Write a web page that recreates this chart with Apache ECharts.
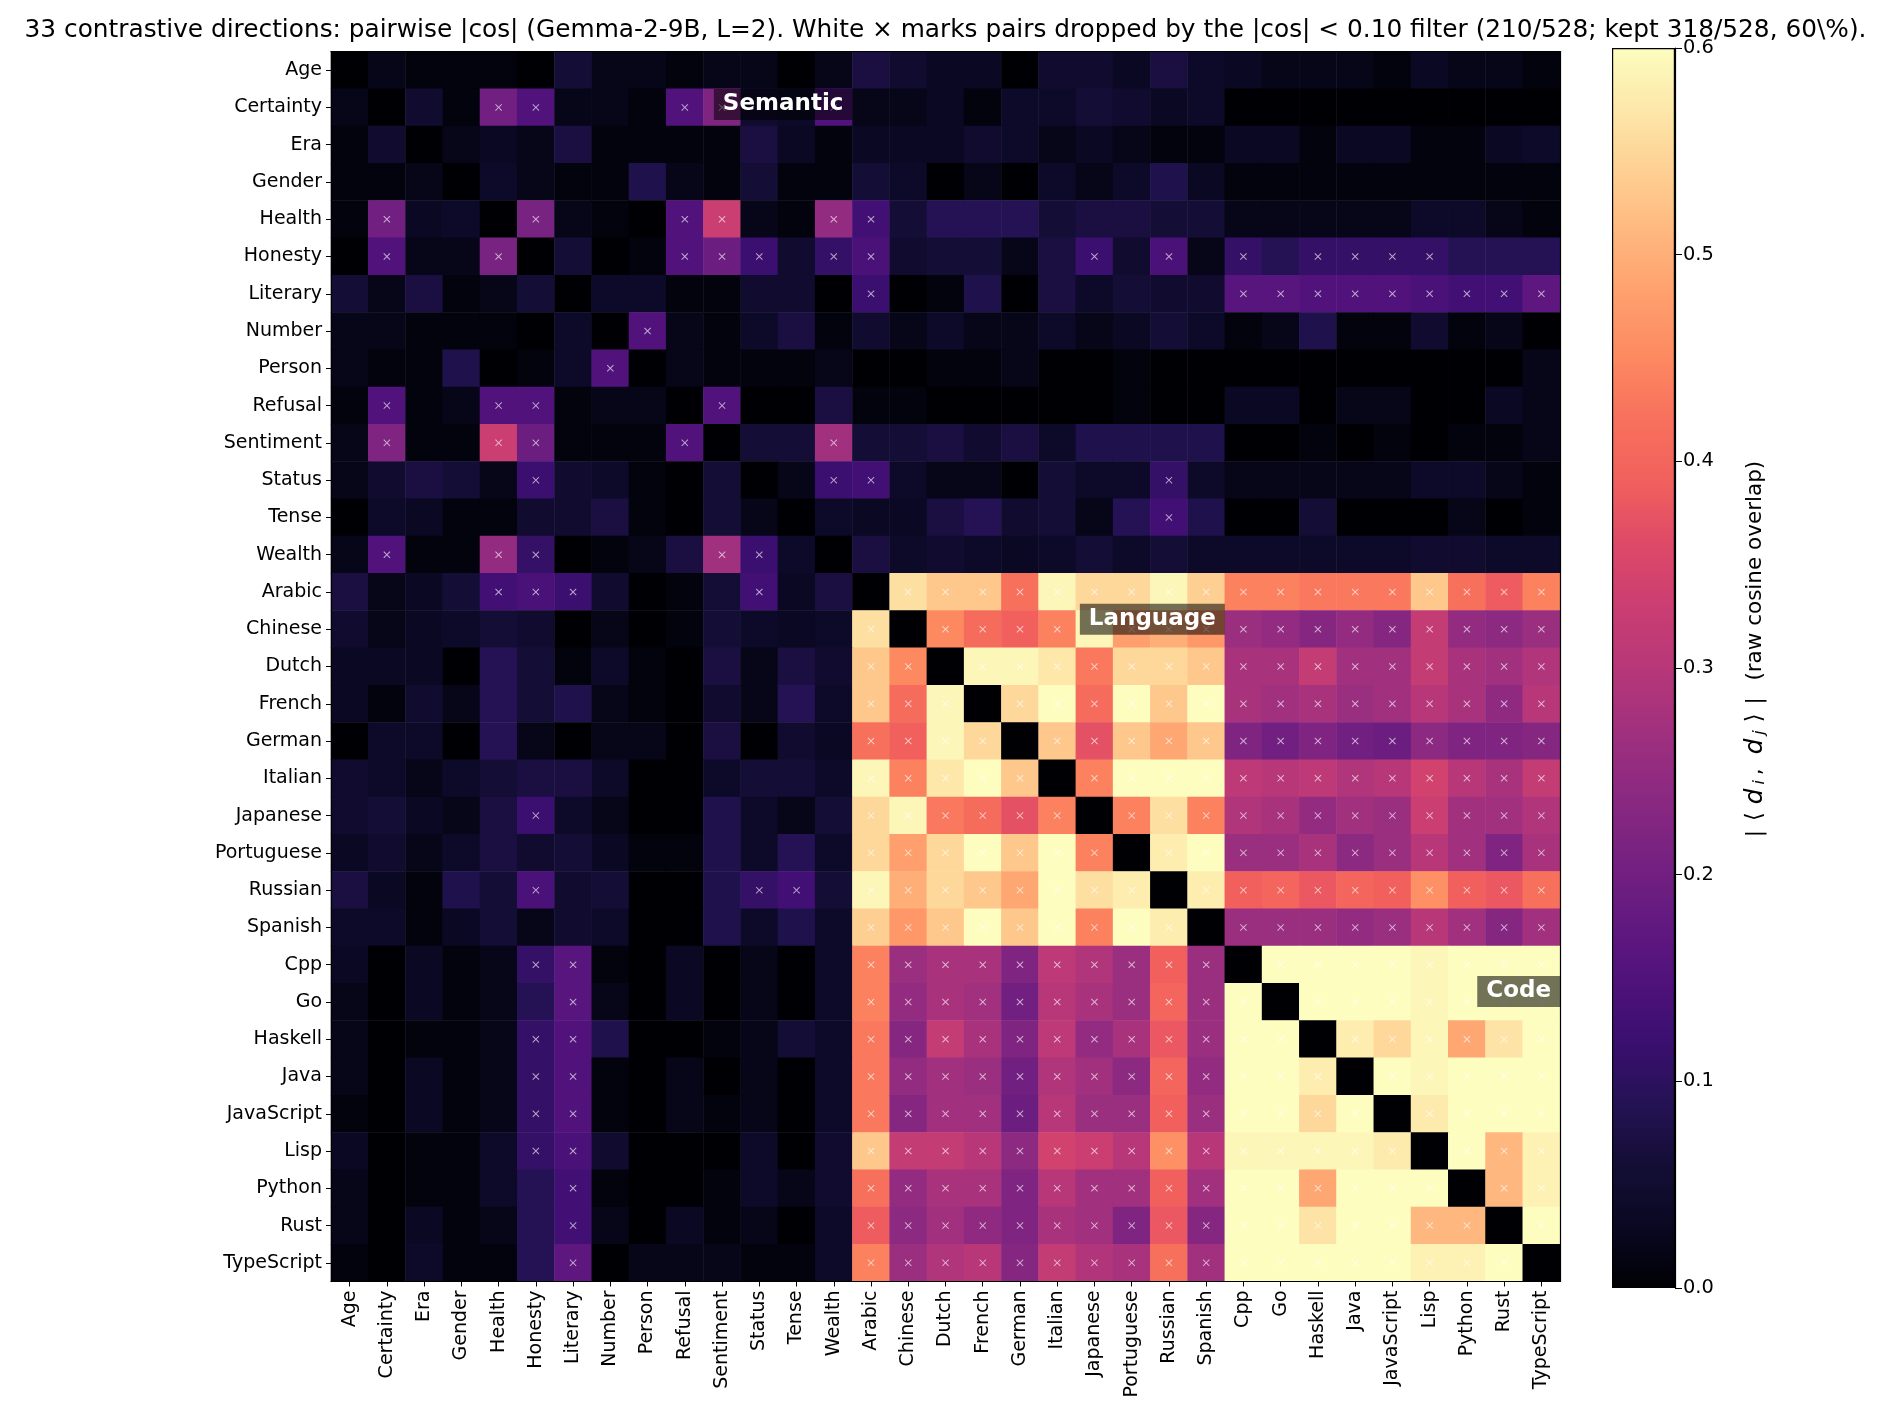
<!DOCTYPE html>
<html>
<head>
<meta charset="utf-8">
<script src="https://cdn.jsdelivr.net/npm/echarts@6/dist/echarts.min.js"></script>
<style>
html,body{margin:0;padding:0;background:#fff;}
#chart{width:1891px;height:1421px;}
</style>
</head>
<body>
<div id="chart"></div>
<script>
// ---- categories ----
const directions = ['Age','Certainty','Era','Gender','Health','Honesty','Literary','Number','Person','Refusal','Sentiment','Status','Tense','Wealth',
  'Arabic','Chinese','Dutch','French','German','Italian','Japanese','Portuguese','Russian','Spanish',
  'Cpp','Go','Haskell','Java','JavaScript','Lisp','Python','Rust','TypeScript'];

// ---- |cos| values, lower triangle: row i lists columns 0..i-1 ----
const semanticRows = [
  [],
  [0.02],
  [0.01, 0.05],
  [0.01, 0.01, 0.02],
  [0.01, 0.20, 0.03, 0.04],
  [0.00, 0.15, 0.02, 0.02, 0.21],
  [0.06, 0.02, 0.07, 0.01, 0.02, 0.06],
  [0.02, 0.02, 0.01, 0.01, 0.01, 0.00, 0.04],
  [0.02, 0.01, 0.01, 0.08, 0.00, 0.01, 0.04, 0.15],
  [0.01, 0.15, 0.01, 0.02, 0.15, 0.15, 0.01, 0.02, 0.02],
  [0.02, 0.22, 0.01, 0.01, 0.33, 0.19, 0.01, 0.01, 0.01, 0.15],
  [0.02, 0.05, 0.07, 0.06, 0.02, 0.12, 0.05, 0.04, 0.01, 0.00, 0.06],
  [0.00, 0.04, 0.03, 0.01, 0.01, 0.05, 0.05, 0.07, 0.01, 0.00, 0.06, 0.02],
  [0.02, 0.15, 0.01, 0.01, 0.25, 0.11, 0.00, 0.01, 0.02, 0.07, 0.27, 0.12, 0.04]
];
const languageRows = [
  [0.07, 0.02, 0.03, 0.06, 0.13, 0.14, 0.12, 0.05, 0.00, 0.01, 0.06, 0.13, 0.03, 0.07],
  [0.05, 0.02, 0.03, 0.04, 0.06, 0.05, 0.00, 0.02, 0.00, 0.01, 0.06, 0.04, 0.03, 0.04, 0.56],
  [0.03, 0.03, 0.03, 0.00, 0.09, 0.06, 0.01, 0.04, 0.01, 0.00, 0.07, 0.02, 0.07, 0.05, 0.53, 0.45],
  [0.03, 0.01, 0.05, 0.02, 0.09, 0.06, 0.08, 0.02, 0.01, 0.00, 0.05, 0.02, 0.09, 0.04, 0.53, 0.41, 0.59],
  [0.00, 0.04, 0.04, 0.00, 0.09, 0.02, 0.00, 0.02, 0.02, 0.00, 0.07, 0.00, 0.05, 0.03, 0.42, 0.39, 0.59, 0.55],
  [0.05, 0.04, 0.02, 0.04, 0.06, 0.07, 0.07, 0.04, 0.00, 0.00, 0.04, 0.06, 0.06, 0.04, 0.59, 0.44, 0.57, 0.60, 0.53],
  [0.05, 0.06, 0.03, 0.02, 0.07, 0.12, 0.04, 0.02, 0.00, 0.00, 0.08, 0.04, 0.02, 0.06, 0.55, 0.59, 0.43, 0.41, 0.37, 0.44],
  [0.03, 0.05, 0.02, 0.04, 0.07, 0.05, 0.06, 0.03, 0.01, 0.01, 0.08, 0.04, 0.09, 0.04, 0.55, 0.48, 0.55, 0.60, 0.53, 0.60, 0.44],
  [0.07, 0.03, 0.01, 0.08, 0.06, 0.14, 0.05, 0.06, 0.00, 0.00, 0.08, 0.11, 0.13, 0.06, 0.59, 0.50, 0.55, 0.53, 0.49, 0.60, 0.56, 0.58],
  [0.04, 0.04, 0.01, 0.03, 0.06, 0.02, 0.05, 0.04, 0.00, 0.00, 0.08, 0.04, 0.08, 0.04, 0.54, 0.47, 0.53, 0.60, 0.53, 0.60, 0.44, 0.60, 0.58]
];
const codeRows = [
  [0.03, 0.00, 0.03, 0.01, 0.02, 0.11, 0.16, 0.01, 0.00, 0.03, 0.00, 0.02, 0.00, 0.04, 0.44, 0.26, 0.28, 0.28, 0.22, 0.31, 0.29, 0.26, 0.39, 0.26],
  [0.02, 0.00, 0.03, 0.01, 0.02, 0.09, 0.16, 0.02, 0.00, 0.03, 0.00, 0.02, 0.00, 0.04, 0.44, 0.25, 0.28, 0.27, 0.20, 0.30, 0.28, 0.26, 0.40, 0.26, 0.60],
  [0.02, 0.00, 0.01, 0.01, 0.02, 0.11, 0.15, 0.08, 0.00, 0.00, 0.01, 0.02, 0.06, 0.04, 0.43, 0.23, 0.32, 0.28, 0.22, 0.31, 0.25, 0.28, 0.38, 0.26, 0.60, 0.60],
  [0.02, 0.00, 0.03, 0.01, 0.02, 0.11, 0.15, 0.01, 0.00, 0.02, 0.00, 0.02, 0.00, 0.04, 0.43, 0.25, 0.27, 0.26, 0.20, 0.29, 0.27, 0.24, 0.40, 0.25, 0.60, 0.60, 0.58],
  [0.01, 0.00, 0.03, 0.01, 0.02, 0.11, 0.15, 0.01, 0.00, 0.02, 0.01, 0.02, 0.00, 0.04, 0.43, 0.23, 0.27, 0.27, 0.19, 0.30, 0.26, 0.26, 0.39, 0.26, 0.60, 0.60, 0.55, 0.60],
  [0.03, 0.00, 0.01, 0.01, 0.04, 0.11, 0.14, 0.05, 0.00, 0.00, 0.00, 0.04, 0.00, 0.05, 0.53, 0.32, 0.32, 0.30, 0.24, 0.34, 0.33, 0.30, 0.46, 0.30, 0.59, 0.59, 0.59, 0.59, 0.575],
  [0.02, 0.00, 0.01, 0.01, 0.04, 0.09, 0.13, 0.01, 0.00, 0.00, 0.01, 0.04, 0.02, 0.05, 0.42, 0.25, 0.28, 0.28, 0.22, 0.30, 0.27, 0.27, 0.39, 0.27, 0.60, 0.60, 0.49, 0.60, 0.60, 0.60],
  [0.02, 0.00, 0.03, 0.01, 0.02, 0.09, 0.13, 0.02, 0.00, 0.03, 0.01, 0.02, 0.00, 0.04, 0.385, 0.24, 0.27, 0.245, 0.22, 0.28, 0.27, 0.22, 0.38, 0.23, 0.60, 0.60, 0.565, 0.60, 0.60, 0.51, 0.51],
  [0.01, 0.00, 0.04, 0.01, 0.01, 0.09, 0.17, 0.00, 0.02, 0.02, 0.02, 0.01, 0.01, 0.04, 0.44, 0.26, 0.29, 0.30, 0.23, 0.32, 0.29, 0.28, 0.42, 0.27, 0.60, 0.60, 0.60, 0.60, 0.60, 0.585, 0.585, 0.60]
];

// ---- filter threshold and colour scale ----
const DROP_THRESHOLD = 0.10;
const colorMin = 0.0, colorMax = 0.6;
const colorTicks = [0.0, 0.1, 0.2, 0.3, 0.4, 0.5, 0.6];

// ---- block annotations ----
const blocks = [
  {name: 'Semantic', first: 'Age', last: 'Wealth', dy: 1.42},
  {name: 'Language', first: 'Arabic', last: 'Spanish', dy: 1.23},
  {name: 'Code', first: 'Cpp', last: 'TypeScript', dy: 1.22}
];

const magma = ['#000004','#0a0822','#140e36','#251255','#3b0f70','#51127c','#641a80','#782281','#8c2981','#a1307e',
  '#b73779','#cb3e72','#de4968','#f1605d','#f7705c','#fd8961','#fe9f6d','#feb77e','#fecf92','#fde7a9','#fcfdbf'];

const lowerRows = semanticRows.concat(languageRows, codeRows);
const n = directions.length;
function cosVal(i, j) {
  if (i === j) return 0;
  return j < i ? lowerRows[i][j] : lowerRows[j][i];
}
const heatData = [];
const dropMarks = [];
for (let i = 0; i < n; i++) {
  for (let j = 0; j < n; j++) {
    const v = cosVal(i, j);
    heatData.push([j, i, v]);
    if (i !== j && v >= DROP_THRESHOLD) dropMarks.push([j, i]);
  }
}

const FONT = '"DejaVu Sans", "Liberation Sans", sans-serif';
const chart = echarts.init(document.getElementById('chart'), null, {renderer: 'canvas'});

const gradStops = magma.map((c, k) => ({offset: k / (magma.length - 1), color: c}));
const CBF = 21.5;

const option = {
  backgroundColor: '#ffffff',
  animation: false,
  title: {
    text: '33 contrastive directions: pairwise |cos| (Gemma-2-9B, L=2). White \u00d7 marks pairs dropped by the |cos| < 0.10 filter (210/528; kept 318/528, 60\\%).',
    left: 'center', top: 13,
    textStyle: {fontFamily: FONT, fontSize: 24.8, fontWeight: 'normal', color: '#000'}
  },
  grid: [
    {left: 331, top: 51.5, width: 1229, height: 1230, containLabel: false},
    {left: 1612, top: 48, width: 63, height: 1240, containLabel: false}
  ],
  visualMap: {
    type: 'continuous', show: false, min: colorMin, max: colorMax, seriesIndex: 0,
    inRange: {color: magma}
  },
  xAxis: [
    {type: 'category', gridIndex: 0, data: directions, position: 'bottom', z: 5,
      axisLine: {show: true, lineStyle: {color: '#000', width: 1.2}},
      axisTick: {show: true, alignWithLabel: true, length: 5, lineStyle: {color: '#000'}},
      axisLabel: {interval: 0, rotate: 90, fontFamily: FONT, fontSize: 19, color: '#000', margin: 9},
      splitLine: {show: false}},
    {type: 'category', gridIndex: 0, data: directions, position: 'top', z: 5,
      axisLine: {show: true, lineStyle: {color: '#000', width: 1.2}},
      axisTick: {show: false}, axisLabel: {show: false}, splitLine: {show: false}},
    {type: 'category', gridIndex: 1, data: [''], show: false}
  ],
  yAxis: [
    {type: 'category', gridIndex: 0, data: directions, inverse: true, position: 'left', z: 5,
      axisLine: {show: true, lineStyle: {color: '#000', width: 1.2}},
      axisTick: {show: true, alignWithLabel: true, length: 5, lineStyle: {color: '#000'}},
      axisLabel: {interval: 0, fontFamily: FONT, fontSize: 19, color: '#000', margin: 9},
      splitLine: {show: false}},
    {type: 'category', gridIndex: 0, data: directions, inverse: true, position: 'right', z: 5,
      axisLine: {show: true, lineStyle: {color: '#000', width: 1.2}},
      axisTick: {show: false}, axisLabel: {show: false}, splitLine: {show: false}},
    {type: 'value', gridIndex: 1, min: colorMin, max: colorMax, interval: 0.1, position: 'right', z: 5,
      axisLine: {show: true, lineStyle: {color: '#000', width: 1.2}},
      axisTick: {show: true, length: 7, lineStyle: {color: '#000'}},
      axisLabel: {fontFamily: FONT, fontSize: 19.4, color: '#000', margin: 8,
        formatter: v => (colorTicks.some(t => Math.abs(t - v) < 1e-9) ? v.toFixed(1) : '')},
      splitLine: {show: false},
      name: '{b0||}{br|\u27e8}{it|d}{sub|i}{m|,}{it|d}{sub|j}{br|\u27e9}{b||}  (raw cosine overlap)',
      nameLocation: 'middle', nameGap: 68, nameRotate: 90,
      nameTextStyle: {fontFamily: FONT, fontSize: CBF, color: '#000',
        rich: {
          b0: {fontFamily: FONT, fontSize: CBF, color: '#000', padding: [0, 3, 0, 38]},
          b: {fontFamily: FONT, fontSize: CBF, color: '#000', padding: [0, 3, 0, 3]},
          br: {fontFamily: FONT, fontSize: CBF + 1, color: '#000', padding: [0, 6, 0, 6]},
          m: {fontFamily: FONT, fontSize: CBF, color: '#000', padding: [0, 12, 0, 3]},
          it: {fontFamily: FONT, fontSize: CBF + 3, fontStyle: 'italic', color: '#000', padding: [0, 2, 0, 2]},
          sub: {fontFamily: FONT, fontSize: 16, fontStyle: 'italic', color: '#000', padding: [9, 2, 0, 2]}
        }}}
  ],
  series: [
    {type: 'heatmap', xAxisIndex: 0, yAxisIndex: 0, data: heatData, progressive: 0,
      itemStyle: {borderWidth: 0}, emphasis: {disabled: true}, silent: true},
    {type: 'scatter', xAxisIndex: 0, yAxisIndex: 0, data: dropMarks, silent: true, z: 3,
      symbol: 'path://M1,0 L5,4 L9,0 L10,1 L6,5 L10,9 L9,10 L5,6 L1,10 L0,9 L4,5 L0,1 Z',
      symbolSize: 7, itemStyle: {color: 'rgba(255,255,255,0.8)'}},
    {type: 'bar', xAxisIndex: 2, yAxisIndex: 2, data: [colorMax], barWidth: '100%', silent: true,
      itemStyle: {color: new echarts.graphic.LinearGradient(0, 1, 0, 0, gradStops),
        borderColor: '#000', borderWidth: 1.2}}
  ]
};
chart.setOption(option);

// annotation boxes placed from the axis scales
const p0 = chart.convertToPixel({xAxisIndex: 0, yAxisIndex: 0}, [directions[0], directions[0]]);
const p1 = chart.convertToPixel({xAxisIndex: 0, yAxisIndex: 0}, [directions[1], directions[1]]);
const cw = p1[0] - p0[0], ch = p1[1] - p0[1];
const graphics = blocks.map(b => {
  const pr = chart.convertToPixel({xAxisIndex: 0, yAxisIndex: 0}, [b.last, b.first]);
  const right = pr[0] + cw / 2;
  const top = pr[1] - ch / 2;
  return {
    type: 'text', z: 20, silent: true,
    x: right, y: top + b.dy * ch,
    style: {
      text: b.name, fill: '#ffffff', align: 'right', verticalAlign: 'middle',
      font: 'bold 23px ' + FONT,
      backgroundColor: 'rgba(0,0,0,0.55)', padding: [4, 9, 4, 9]
    }
  };
});
chart.setOption({graphic: graphics});
</script>
</body>
</html>
